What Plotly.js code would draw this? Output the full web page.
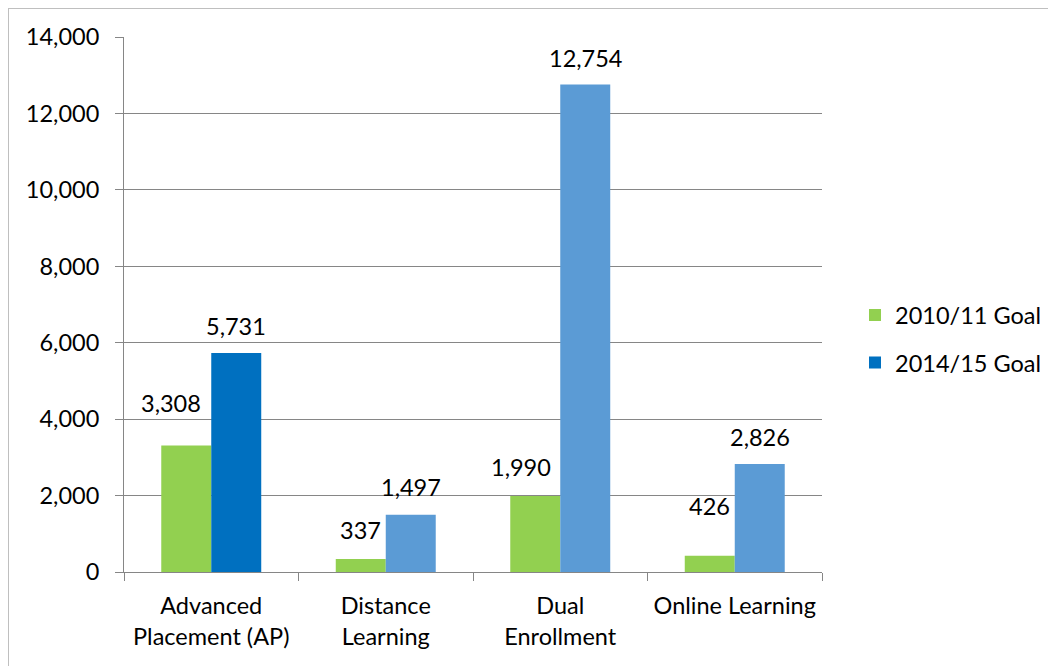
<!DOCTYPE html>
<html>
<head>
<meta charset="utf-8">
<script src="https://cdn.plot.ly/plotly-3.0.1.min.js"></script>
<style>
  html, body { margin: 0; padding: 0; background: #fff; overflow: hidden; width: 1048px; height: 666px; }
  #frame { position: absolute; left: 8px; top: 8px; width: 1100px; height: 700px;
           border-left: 1px solid #bfbfbf; border-top: 1px solid #bfbfbf; pointer-events: none; }
  #chart { position: absolute; left: 0; top: 0; width: 1200px; height: 666px; }
</style>
</head>
<body>
<div id="chart"></div>
<div id="frame"></div>
<script>
// ---- data ----
const categories = ["Advanced<br>Placement (AP)", "Distance<br>Learning", "Dual<br>Enrollment", "Online Learning"];
const seriesNames = ["2010/11 Goal", "2014/15 Goal"];
const goal2010 = [3308, 337, 1990, 426];
const goal2015 = [5731, 1497, 12754, 2826];

// ---- styling (not data) ----
const green = "#92D050";
const blue = "#5B9BD5";
const darkBlue = "#0070C0";
const fontFam = "Lato, 'Open Sans', sans-serif";
const fs = 23.5;
// label offsets in pixels
const labelDx2010 = [-15, 0, -14, 0];
const labelDy2010 = [43, 29, 29, 50];
const labelDx2015 = [0, 0, 0, 0];
const labelDy2015 = [27, 28, 27, 27];
const groupHalf = 25;

const fmt = v => v.toLocaleString("en-US");

const traces = [
  {
    type: "bar", name: seriesNames[0], x: categories, y: goal2010,
    marker: { color: green }, legendgroup: "a", hoverinfo: "skip"
  },
  {
    type: "bar", name: seriesNames[1], x: categories, y: goal2015,
    marker: { color: goal2015.map((v, i) => i === 0 ? darkBlue : blue) },
    legendgroup: "b", hoverinfo: "skip"
  }
];

const annotations = [];
categories.forEach((c, i) => {
  annotations.push({
    x: c, y: goal2010[i], xref: "x", yref: "y", text: fmt(goal2010[i]),
    showarrow: false, xanchor: "center", yanchor: "middle",
    xshift: -groupHalf + labelDx2010[i], yshift: labelDy2010[i],
    font: { family: fontFam, size: fs, color: "#000" }
  });
  annotations.push({
    x: c, y: goal2015[i], xref: "x", yref: "y", text: fmt(goal2015[i]),
    showarrow: false, xanchor: "center", yanchor: "middle",
    xshift: groupHalf + labelDx2015[i], yshift: labelDy2015[i],
    font: { family: fontFam, size: fs, color: "#000" }
  });
});

const W = 1200;
const layout = {
  width: W, height: 666,
  margin: { l: 124, r: W - 822, t: 37, b: 94, pad: 0 },
  paper_bgcolor: "#fff", plot_bgcolor: "#fff",
  font: { family: fontFam, size: fs, color: "#000" },
  barmode: "group", bargap: 0.427, bargroupgap: 0,
  showlegend: true,
  legend: {
    x: (855 - 124) / 698, xanchor: "left", y: 0.435, yanchor: "middle",
    traceorder: "grouped", tracegroupgap: 14,
    font: { family: fontFam, size: fs, color: "#000" },
    bgcolor: "rgba(0,0,0,0)"
  },
  xaxis: {
    type: "category", tickson: "boundaries", ticks: "outside", ticklen: 8,
    tickcolor: "#868686", showline: true, linecolor: "#868686", linewidth: 1,
    showgrid: false, zeroline: false, automargin: false, ticklabelstandoff: 13,
    tickfont: { family: fontFam, size: fs, color: "#000" }
  },
  yaxis: {
    range: [0, 14000], dtick: 2000, tickformat: ",d", ticks: "outside", ticklen: 8,
    tickcolor: "#868686", showline: true, linecolor: "#868686", linewidth: 1,
    showgrid: true, gridcolor: "#868686", gridwidth: 1, zeroline: false,
    automargin: false, ticklabelstandoff: 11,
    tickfont: { family: fontFam, size: fs, color: "#000" }
  },
  annotations: annotations
};

Plotly.newPlot("chart", traces, layout, { displayModeBar: false, staticPlot: true });
</script>
</body>
</html>
